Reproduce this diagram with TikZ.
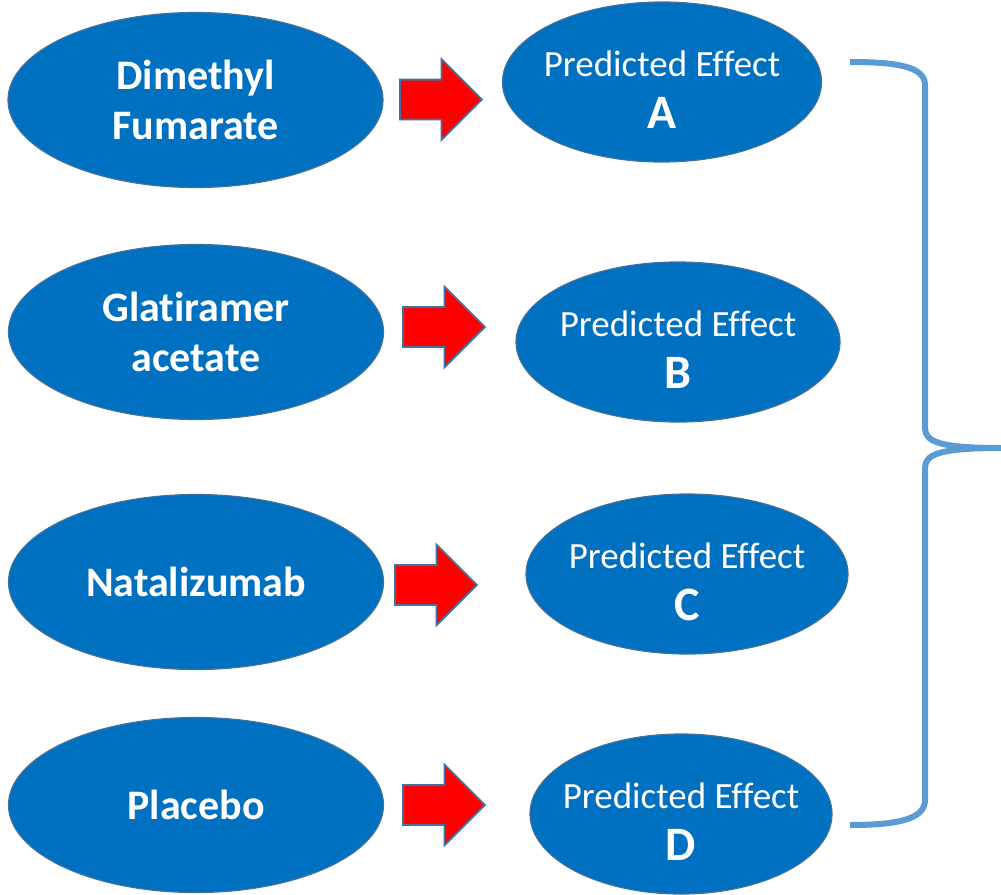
\documentclass[tikz,border=0pt]{standalone}
\usepackage{fontspec}
\setmainfont{Carlito}[Ligatures=NoCommon]
\usetikzlibrary{shapes.geometric,shapes.arrows}
\definecolor{ovalblue}{HTML}{0070C0}
\definecolor{edgeblue}{HTML}{41719C}
\definecolor{braceblue}{HTML}{5B9BD5}
\tikzset{
    drug/.style={ellipse, fill=ovalblue, draw=edgeblue, line width=1.2pt,
        minimum width=375pt, minimum height=175pt, inner sep=0pt,
        text=white, align=center, font=\fontsize{42}{50}\selectfont\bfseries},
    effect/.style={ellipse, fill=ovalblue, draw=edgeblue, line width=1.2pt,
        minimum height=160pt, inner xsep=-40pt, inner ysep=0pt,
        text=white, align=center, font=\fontsize{37}{52}\selectfont},
    redarrow/.style={single arrow, fill=red, draw=edgeblue, line width=1.8pt,
        minimum height=82pt, single arrow head extend=20.5pt,
        single arrow tip angle=90, inner xsep=0pt, inner ysep=19pt,
        text height=0pt, text depth=0pt}
}
\newcommand{\effectletter}[1]{\rule{0pt}{41pt}Predicted Effect\\{\fontsize{48}{52}\selectfont\bfseries #1}}
\begin{document}
\begin{tikzpicture}[x=1pt, y=-1pt]
    \useasboundingbox (0,0) rectangle (1001,894);

    % Drugs
    \node[drug] (dmf) at (195.5,100) {Dimethyl\\Fumarate};
    \node[drug] (ga) at (196,332) {Glatiramer\\acetate};
    \node[drug] (nat) at (196,582) {Natalizumab};
    \node[drug] (pla) at (196,805) {Placebo};

    % Effects
    \node[effect, minimum width=319pt] (ea) at (662,82) {\effectletter{A}};
    \node[effect, minimum width=324pt] (eb) at (678,342) {\effectletter{B}};
    \node[effect, minimum width=322pt] (ec) at (687,574) {\effectletter{C}};
    \node[effect, minimum width=302pt] (ed) at (681,814) {\effectletter{D}};

    % Arrows
    \node[redarrow] (a1) at (431,99.5) {};
    \node[redarrow] (a2) at (434,327) {};
    \node[redarrow] (a3) at (426,585) {};
    \node[redarrow] (a4) at (434,805) {};

    % Brace
    \coordinate (btop) at (850,62);
    \coordinate (btip) at (1001,448);
    \coordinate (bbot) at (850,825);
    \draw[braceblue, line width=6pt]
        (btop) .. controls (895,62) and (925,66) .. (925,85)
        -- (925,428) .. controls (925,442) and (940,448) .. (btip)
        .. controls (940,448) and (925,454) .. (925,468)
        -- (925,800) .. controls (925,820) and (895,825) .. (bbot);
\end{tikzpicture}
\end{document}
